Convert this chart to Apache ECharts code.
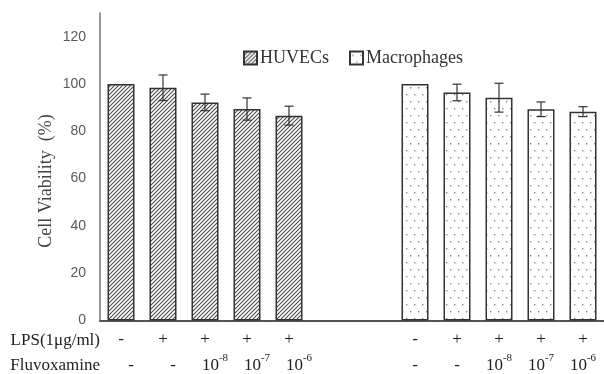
<!DOCTYPE html>
<html><head><meta charset="utf-8">
<script src="https://cdn.jsdelivr.net/npm/echarts@6/dist/echarts.min.js"></script>
<style>html,body{margin:0;padding:0;background:#fff}#c{width:604px;height:374px}</style>
</head><body><div id="c"></div>
<script>
// ---- data ----
const categories = ['H1','H2','H3','H4','H5','gapA','gapB','M1','M2','M3','M4','M5'];
const lpsLabels  = ['-','+','+','+','+','','','-','+','+','+','+'];
const fluvLabels = ['-','-','10^-8','10^-7','10^-6','','','-','-','10^-8','10^-7','10^-6'];
const huvecValues = [100, 98.4, 92.2, 89.4, 86.6];
const huvecErrors = [0, 5.4, 3.5, 4.7, 4.0];
const macroValues = [100, 96.4, 94.2, 89.3, 88.3];
const macroErrors = [0, 3.5, 6.1, 3.1, 2.1];
const yTicks = [0, 20, 40, 60, 80, 100, 120];
const seriesNames = ['HUVECs', 'Macrophages'];
const huvecStart = 0, macroStart = 7;

// ---- patterns ----
function hatchPattern() {
  const c = document.createElement('canvas'); c.width = 4; c.height = 4;
  const g = c.getContext('2d');
  g.fillStyle = '#fff'; g.fillRect(0, 0, 4, 4);
  g.strokeStyle = '#4a4a4a'; g.lineWidth = 1.1;
  g.beginPath();
  g.moveTo(-1, 5); g.lineTo(5, -1);
  g.moveTo(-1, 1); g.lineTo(1, -1);
  g.moveTo(3, 5); g.lineTo(5, 3);
  g.stroke();
  return c;
}
function dotPattern() {
  const c = document.createElement('canvas'); c.width = 8; c.height = 14;
  const g = c.getContext('2d');
  g.fillStyle = '#fff'; g.fillRect(0, 0, 8, 14);
  g.fillStyle = '#8a8a8a';
  g.fillRect(2, 3, 1.4, 1.4);
  g.fillRect(6, 10, 1.4, 1.4);
  return c;
}

function fullData(vals, start) {
  const d = categories.map(() => '-');
  vals.forEach((v, i) => { d[start + i] = v; });
  return d;
}
function errData(vals, errs, start) {
  const out = [];
  vals.forEach((v, i) => { if (errs[i] > 0) out.push([start + i, v - errs[i], v + errs[i]]); });
  return out;
}

const serif = 'Liberation Serif';
function fmtFluv(s, i) {
  const pad = i < 5 ? 'h' : 'm';
  if (!s) return '';
  if (s.indexOf('^') >= 0) {
    const [b, e] = s.split('^');
    return '{' + pad + 'n|' + b + '}{s|' + e + '}';
  }
  return '{' + pad + 'n|' + s + '}';
}

const chart = echarts.init(document.getElementById('c'), null, {renderer: 'canvas'});
const barBorder = {borderColor: '#333', borderWidth: 1.5};
chart.setOption({
  animation: false,
  backgroundColor: '#fff',
  grid: {left: 100, right: 0, top: 13, bottom: 52},
  legend: {
    data: seriesNames,
    left: 238, top: 44,
    itemWidth: 13, itemHeight: 13, itemGap: 20,
    icon: 'rect',
    textStyle: {fontFamily: serif, fontSize: 18, color: '#333', padding: [0, 0, 0, -2]}
  },
  xAxis: {
    type: 'category',
    data: categories,
    axisLine: {lineStyle: {color: '#555', width: 2}},
    axisTick: {show: false},
    axisLabel: {
      interval: 0, margin: 6,
      formatter: (v, i) => {
        const l1 = lpsLabels[i] ? '{p|' + lpsLabels[i] + '}' : '{p| }';
        return l1 + '\n' + (fmtFluv(fluvLabels[i], i) || '{p| }');
      },
      rich: {
        p: {fontFamily: serif, fontSize: 17, color: '#222', lineHeight: 26},
        hn: {fontFamily: serif, fontSize: 17, color: '#222', lineHeight: 26, padding: [0, 0, 0, 20]},
        mn: {fontFamily: serif, fontSize: 17, color: '#222', lineHeight: 26},
        s: {fontFamily: serif, fontSize: 11, color: '#222', verticalAlign: 'top', lineHeight: 14}
      }
    }
  },
  yAxis: {
    type: 'value', min: 0, max: 130, interval: 20,
    axisLine: {show: true, lineStyle: {color: '#777', width: 1.5}},
    axisTick: {show: false},
    splitLine: {show: false},
    axisLabel: {
      margin: 14, color: '#595959', fontSize: 14, fontFamily: 'Liberation Sans',
      formatter: v => yTicks.indexOf(v) >= 0 ? String(v) : ''
    }
  },
  graphic: [
    {type: 'text', x: 46, y: 181, rotation: Math.PI / 2,
     style: {text: 'Cell Viability  (%)', font: '18px "Liberation Serif"', fill: '#444',
             textAlign: 'center', textVerticalAlign: 'middle'}},
    {type: 'text', x: 100, y: 341,
     style: {text: 'LPS(1μg/ml)', font: '17px "Liberation Serif"', fill: '#222',
             textAlign: 'right', textVerticalAlign: 'middle'}},
    {type: 'text', x: 100, y: 366,
     style: {text: 'Fluvoxamine', font: '17px "Liberation Serif"', fill: '#222',
             textAlign: 'right', textVerticalAlign: 'middle'}}
  ],
  series: [
    {name: seriesNames[0], type: 'bar', barWidth: 27, barGap: '-100%',
     itemStyle: Object.assign({color: {image: hatchPattern(), repeat: 'repeat'}}, barBorder),
     data: fullData(huvecValues, huvecStart)},
    {name: seriesNames[1], type: 'bar', barWidth: 27, barGap: '-100%',
     itemStyle: Object.assign({color: {image: dotPattern(), repeat: 'repeat'}}, barBorder),
     data: fullData(macroValues, macroStart)},
    {type: 'custom', z: 10, encode: {x: 0, y: [1, 2]},
     data: errData(huvecValues, huvecErrors, huvecStart).concat(errData(macroValues, macroErrors, macroStart)),
     renderItem: (params, api) => {
       const x = api.value(0);
       const lo = api.coord([x, api.value(1)]);
       const hi = api.coord([x, api.value(2)]);
       const w = 4.5;
       const st = {stroke: '#333', lineWidth: 1.2};
       return {type: 'group', children: [
         {type: 'line', shape: {x1: lo[0], y1: lo[1], x2: hi[0], y2: hi[1]}, style: st},
         {type: 'line', shape: {x1: lo[0] - w, y1: lo[1], x2: lo[0] + w, y2: lo[1]}, style: st},
         {type: 'line', shape: {x1: hi[0] - w, y1: hi[1], x2: hi[0] + w, y2: hi[1]}, style: st}
       ]};
     }}
  ]
});
</script>
</body></html>
